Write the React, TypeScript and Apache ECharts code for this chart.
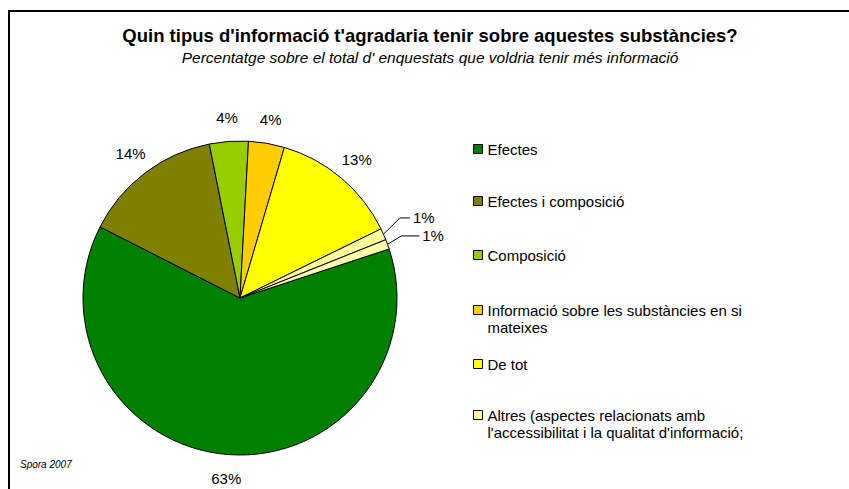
import React, { useEffect, useRef } from "react";
import * as echarts from "echarts";

const TITLE = "Quin tipus d'informació t'agradaria tenir sobre aquestes substàncies?";
const SUBTITLE = "Percentatge sobre el total d' enquestats que voldria tenir més informació";
const SOURCE = "Spora 2007";

const categories = [
  "Efectes",
  "Efectes i composició",
  "Composició",
  "Informació sobre les substàncies en si mateixes",
  "De tot",
  "Altres (aspectes relacionats amb l'accessibilitat i la qualitat d'informació;",
  "Altres (2)",
];
const values = [62.6, 14.4, 4.0, 3.7, 13.2, 1.2, 1.0];
const colors = ["#008000", "#808000", "#99CC00", "#FFCC00", "#FFFF00", "#FFFF99", "#FFFFAA"];
const legendLabels = [
  "Efectes",
  "Efectes i composició",
  "Composició",
  "Informació sobre les substàncies en si\nmateixes",
  "De tot",
  "Altres (aspectes relacionats amb\nl'accessibilitat i la qualitat d'informació;",
];
const legendTops = [140.5, 192.5, 246.5, 284.5, 355.5, 389.5];

const FONT = "'Liberation Sans', Arial, sans-serif";

export default function App() {
  const ref = useRef<HTMLDivElement>(null);
  useEffect(() => {
    if (!ref.current) return;
    const chart = echarts.init(ref.current, undefined, { renderer: "svg" });
    const center = [240, 298];
    const fmt = (p: any) => Math.round(p.value) + "%";
    const legends = legendLabels.map((lbl, i) => {
      const twoLines = lbl.indexOf("\n") >= 0;
      return {
        orient: "vertical",
        left: 473,
        top: legendTops[i],
        padding: 0,
        itemWidth: 9,
        itemHeight: 9,
        icon: "rect",
        selectedMode: false,
        itemStyle: { borderColor: "#000", borderWidth: 1 },
        formatter: () => (twoLines ? " \n" + lbl : lbl),
        textStyle: {
          fontFamily: FONT,
          fontSize: 15,
          color: "#000",
          lineHeight: 17,
        },
        data: [categories[i]],
      };
    });
    const shifts: Record<number, number> = { 5: -9, 6: -8 };
    chart.setOption({
      animation: false,
      backgroundColor: "#fff",
      title: {
        text: TITLE,
        subtext: SUBTITLE,
        left: 430,
        top: 25.5,
        textAlign: "center",
        padding: 0,
        itemGap: 5,
        textStyle: { fontFamily: FONT, fontSize: 18.5, fontWeight: "bold", color: "#000" },
        subtextStyle: { fontFamily: FONT, fontSize: 15.5, fontStyle: "italic", color: "#000" },
      },
      legend: legends,
      graphic: [
        {
          type: "polyline",
          shape: { points: [[9, 489], [9, 11], [849, 11]] },
          style: { stroke: "#000", lineWidth: 2, fill: "none" },
          silent: true,
        },
        {
          type: "text",
          left: 20,
          top: 459,
          style: { text: SOURCE, font: "italic 10px 'Liberation Sans', Arial, sans-serif", fill: "#000" },
        },
      ],
      series: [
        {
          type: "pie",
          center,
          radius: [0, 157],
          startAngle: 18.2,
          clockwise: true,
          silent: true,
          avoidLabelOverlap: true,
          itemStyle: { borderColor: "#000", borderWidth: 1 },
          label: { show: false },
          labelLine: { show: false },
          labelLayout: (params: any) => {
            const dy = shifts[params.dataIndex];
            if (dy == null || !params.labelLinePoints) return {};
            const pts = params.labelLinePoints.map((p: number[], k: number) =>
              k === 0 ? [p[0], p[1]] : [p[0], p[1] + dy]
            );
            return { dy, labelLinePoints: pts };
          },
          data: values.map((v, i) => {
            const d: any = { name: categories[i], value: v, itemStyle: { color: colors[i] } };
            if (i >= 5) {
              d.label = {
                show: true,
                position: "outside",
                formatter: fmt,
                fontFamily: FONT,
                fontSize: 15,
                color: "#000",
                distanceToLabelLine: 3,
              };
              d.labelLine = {
                show: true,
                length: i === 5 ? 18 : 14,
                length2: i === 5 ? 10 : 18,
                lineStyle: { color: "#000", width: 1 },
              };
            }
            return d;
          }),
        },
        {
          type: "pie",
          center,
          radius: [168, 188],
          startAngle: 18.2,
          clockwise: true,
          silent: true,
          itemStyle: { color: "transparent", borderWidth: 0 },
          label: {
            show: true,
            position: "inside",
            formatter: fmt,
            fontFamily: FONT,
            fontSize: 15,
            color: "#000",
          },
          labelLine: { show: false },
          data: values.map((v, i) => ({
            name: categories[i],
            value: v,
            label: i >= 5 ? { show: false } : undefined,
          })),
        },
      ],
    });
    return () => chart.dispose();
  }, []);
  return (
    <div
      ref={ref}
      style={{ position: "fixed", left: 0, top: 0, width: 849, height: 489 }}
    />
  );
}
